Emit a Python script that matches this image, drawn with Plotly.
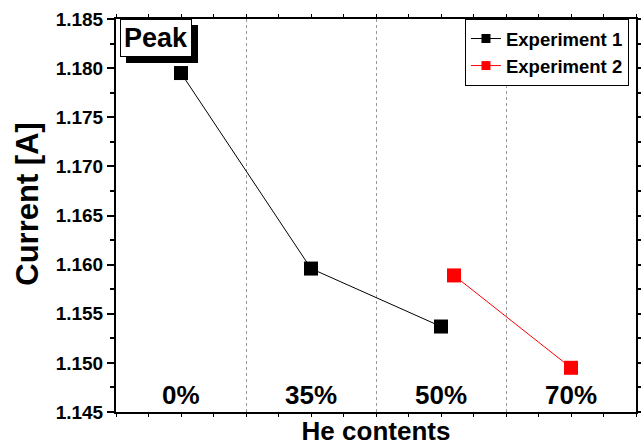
import plotly.graph_objects as go

# Data
categories = ["0%", "35%", "50%", "70%"]
category_pos = [0.5, 1.5, 2.5, 3.5]
exp1_x = [0.5, 1.5, 2.5]
exp1_y = [1.1795, 1.1596, 1.1537]
exp2_x = [2.6, 3.5]
exp2_y = [1.1589, 1.1495]
y_ticks = [1.145, 1.150, 1.155, 1.160, 1.165, 1.170, 1.175, 1.180, 1.185]
series_names = ["Experiment 1", "Experiment 2"]
series_colors = ["black", "red"]

FONT = "Liberation Sans, Arial, sans-serif"

fig = go.Figure()
for xs, ys, name, col in zip([exp1_x, exp2_x], [exp1_y, exp2_y], series_names, series_colors):
    fig.add_trace(go.Scatter(
        x=xs, y=ys, mode="lines+markers", name=name, showlegend=False,
        line=dict(color=col, width=1),
        marker=dict(symbol="square", size=14, color=col),
    ))
# legend-only entries with smaller symbols (as in the reference legend)
for name, col in zip(series_names, series_colors):
    fig.add_trace(go.Scatter(
        x=[None], y=[None], mode="lines+markers", name=name, showlegend=True,
        line=dict(color=col, width=1),
        marker=dict(symbol="square", size=9, color=col),
    ))

for pos, lab in zip(category_pos, categories):
    fig.add_annotation(x=pos, y=1.1467, xref="x", yref="y", text=lab,
                       showarrow=False, font=dict(family=FONT, size=26, color="black", weight="bold"))

# "Peak" label with shadow
fig.add_annotation(x=0, y=1, xref="paper", yref="paper", xanchor="left", yanchor="top",
                   xshift=10, yshift=-6, text="Peak", showarrow=False,
                   font=dict(family=FONT, size=27, color="black", weight="bold"),
                   bgcolor="black", bordercolor="black", borderwidth=1, borderpad=3)
fig.add_annotation(x=0, y=1, xref="paper", yref="paper", xanchor="left", yanchor="top",
                   xshift=4, yshift=0, text="Peak", showarrow=False,
                   font=dict(family=FONT, size=27, color="black", weight="bold"),
                   bgcolor="white", bordercolor="black", borderwidth=1, borderpad=3)

# y-axis title
fig.add_annotation(x=0, y=0.53, xref="paper", yref="paper", xanchor="center", yanchor="middle",
                   xshift=-88, text="Current [A]", textangle=-90, showarrow=False,
                   font=dict(family=FONT, size=31, color="black", weight="bold"))

fig.update_layout(
    width=641, height=448,
    margin=dict(l=116, r=5, t=19, b=36, autoexpand=False),
    paper_bgcolor="white", plot_bgcolor="white",
    font=dict(family=FONT, color="black"),
    showlegend=True,
    legend=dict(x=0.9865, y=1, xanchor="right", yanchor="top",
                bordercolor="black", borderwidth=1, bgcolor="white",
                font=dict(family=FONT, size=18.5, color="black", weight="bold"),
                tracegroupgap=0, itemsizing="trace"),
    xaxis=dict(range=[0, 4], dtick=1, showticklabels=False, automargin=False,
               showgrid=True, griddash="dot", gridcolor="#999999", gridwidth=1,
               zeroline=False, showline=True, linecolor="black", linewidth=2,
               mirror="ticks", ticks="outside", ticklen=3, tickcolor="black",
               minor=dict(dtick=0.25, ticks="outside", ticklen=3, tickcolor="black", showgrid=False),
               title=dict(text="He contents", font=dict(family=FONT, size=26, weight="bold"), standoff=6)),
    yaxis=dict(range=[1.145, 1.185], tickvals=y_ticks, tickformat=".3f", automargin=False,
               showgrid=False, zeroline=False, showline=True, linecolor="black", linewidth=2,
               mirror="ticks", ticks="outside", ticklen=7, tickcolor="black", tickwidth=1.5,
               minor=dict(dtick=0.0025, ticks="outside", ticklen=4, tickcolor="black", showgrid=False),
               tickfont=dict(family=FONT, size=19, color="black", weight="bold")),
)

fig.write_html("out.html", config={"displayModeBar": False},
               post_script="document.body.style.margin='0';")
